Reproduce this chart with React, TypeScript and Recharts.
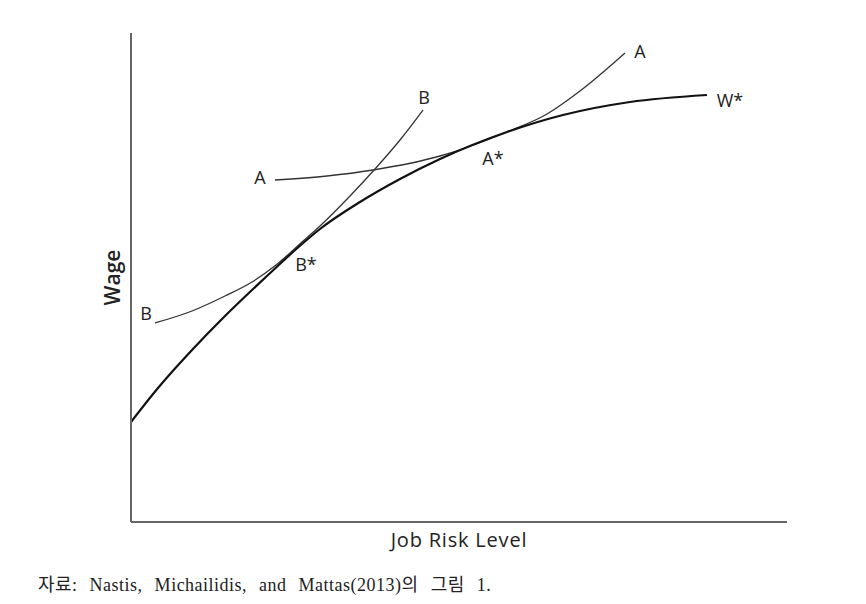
import React from 'react';
import {
  LineChart,
  Line,
  XAxis,
  YAxis,
  ReferenceDot,
  Label,
} from 'recharts';

// schematic wage-risk curves (x: risk, y: wage)
const wageFrontier = [
  { x: 0, y: 100 },
  { x: 27, y: 134 },
  { x: 61, y: 172 },
  { x: 94, y: 206 },
  { x: 121, y: 232 },
  { x: 137, y: 247 },
  { x: 171, y: 278 },
  { x: 189, y: 293 },
  { x: 229, y: 320 },
  { x: 269, y: 343 },
  { x: 309, y: 363 },
  { x: 376, y: 390 },
  { x: 432, y: 407 },
  { x: 499, y: 420 },
  { x: 576, y: 427 },
];

const curveA = [
  { x: 144, y: 342 },
  { x: 196, y: 346 },
  { x: 242, y: 352 },
  { x: 309, y: 366 },
  { x: 376, y: 390 },
  { x: 416, y: 408 },
  { x: 449, y: 431 },
  { x: 494, y: 469 },
];

const curveB = [
  { x: 24, y: 199 },
  { x: 61, y: 211 },
  { x: 94, y: 226 },
  { x: 121, y: 240 },
  { x: 145, y: 257 },
  { x: 171, y: 280 },
  { x: 189, y: 296 },
  { x: 219, y: 326 },
  { x: 244, y: 353 },
  { x: 269, y: 382 },
  { x: 292, y: 412 },
];

const curveLabels = [
  { text: 'A', x: 129, y: 344 },
  { text: 'A', x: 509, y: 470 },
  { text: 'B', x: 293, y: 424 },
  { text: 'B', x: 15, y: 208 },
  { text: 'W*', x: 599, y: 421 },
  { text: 'A*', x: 362, y: 363 },
  { text: 'B*', x: 175, y: 257 },
];

const X_DOMAIN = [0, 656];
const Y_DOMAIN = [0, 489];

const SANS = '"Open Sans", "Noto Sans", sans-serif';

export default function App() {
  return (
    <div style={{ position: 'absolute', left: 0, top: 0, width: 866, height: 604, background: '#fff' }}>
      <LineChart
        width={866}
        height={604}
        margin={{ top: 33, right: 79, bottom: 52, left: 91 }}
      >
        <XAxis
          type="number"
          dataKey="x"
          domain={X_DOMAIN}
          allowDataOverflow
          tick={false}
          tickLine={false}
          height={30}
          axisLine={{ stroke: '#666', strokeWidth: 2 }}
        >
          <Label
            value="Job Risk Level"
            position="insideBottom"
            offset={5}
            style={{ fontFamily: SANS, fontSize: 20, letterSpacing: 0.8, fill: '#222' }}
          />
        </XAxis>
        <YAxis
          type="number"
          dataKey="y"
          domain={Y_DOMAIN}
          allowDataOverflow
          tick={false}
          tickLine={false}
          width={40}
          axisLine={{ stroke: '#666', strokeWidth: 2 }}
        >
          <Label
            value="Wage"
            angle={-90}
            position="insideLeft"
            offset={22}
            style={{ fontFamily: SANS, fontSize: 21, fill: '#222', textAnchor: 'middle', fontWeight: 600 }}
          />
        </YAxis>
        <Line
          data={curveA}
          dataKey="y"
          type="monotone"
          stroke="#333"
          strokeWidth={1.3}
          dot={false}
          isAnimationActive={false}
        />
        <Line
          data={curveB}
          dataKey="y"
          type="monotone"
          stroke="#333"
          strokeWidth={1.3}
          dot={false}
          isAnimationActive={false}
        />
        <Line
          data={wageFrontier}
          dataKey="y"
          type="monotone"
          stroke="#111"
          strokeWidth={2.2}
          dot={false}
          isAnimationActive={false}
        />
        {curveLabels.map((l, i) => (
          <ReferenceDot
            key={i}
            x={l.x}
            y={l.y}
            r={0}
            fill="none"
            stroke="none"
            label={{
              value: l.text,
              position: 'center',
              style: { fontFamily: SANS, fontSize: 18, fill: '#222' },
            }}
          />
        ))}
      </LineChart>
      <div
        style={{
          position: 'absolute',
          left: 38,
          top: 575,
          fontFamily: '"Liberation Serif", "Noto Sans CJK KR", serif',
          fontSize: 18,
          lineHeight: '20px',
          wordSpacing: 7,
          letterSpacing: 0.5,
          color: '#222',
          whiteSpace: 'nowrap',
        }}
      >
        자료: Nastis, Michailidis, and Mattas(2013)의 그림 1.
      </div>
    </div>
  );
}
